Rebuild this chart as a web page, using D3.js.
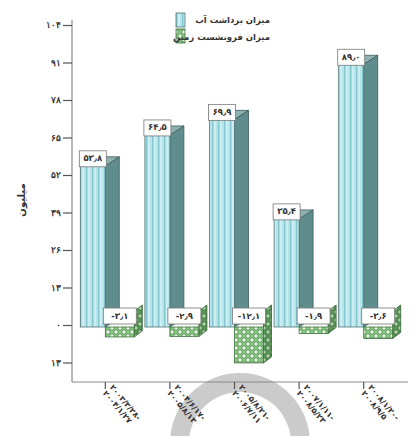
<!DOCTYPE html>
<html>
<head>
<meta charset="utf-8">
<script src="https://cdn.jsdelivr.net/npm/d3@7"></script>
<style>
  html, body { margin: 0; padding: 0; background: #fff; }
  svg { display: block; font-family: "DejaVu Sans", sans-serif; }
</style>
</head>
<body>
<svg id="chart" width="416" height="436"></svg>
<script>
// Periods (two-line labels), water extraction and land subsidence per period
const periodStart = ["۲۰۰۳/۳/۲۸-", "۲۰۰۴/۶/۱۷-", "۲۰۰۵/۸/۲۱-", "۲۰۰۷/۱/۱۱-", "۲۰۰۸/۱/۲۰-"];
const periodEnd   = ["۲۰۰۴/۱/۲۷", "۲۰۰۵/۸/۱۳", "۲۰۰۶/۷/۱۱", "۲۰۰۸/۵/۲۳", "۲۰۰۸/۹/۵"];
const extraction  = [53.8, 64.5, 69.9, 35.4, 89.0];
const subsidence  = [-3.1, -2.9, -12.1, -1.9, -3.6];
const yTicks      = [104, 91, 78, 65, 52, 39, 26, 13, 0, -13];
const seriesNames = ["میزان برداشت آب", "میزان فرونشست زمین"];
const yTitle      = "میلیون";

const faDigits = "۰۱۲۳۴۵۶۷۸۹";
const fa = s => String(s).replace(/[0-9]/g, d => faDigits[+d]).replace(".", "٫");
const fmtVal = v => fa(v.toFixed(1));

const svg = d3.select("#chart");

// ---- patterns ----
const defs = svg.append("defs");
const pc = defs.append("pattern").attr("id", "cyanStripe")
  .attr("patternUnits", "userSpaceOnUse").attr("width", 6).attr("height", 10);
pc.append("rect").attr("width", 6).attr("height", 10).attr("fill", "#b6e4e9");
pc.append("rect").attr("x", 2).attr("width", 1.3).attr("height", 10).attr("fill", "#86c6ce");
pc.append("rect").attr("x", 4.5).attr("width", 1).attr("height", 10).attr("fill", "#e2f7f9");

function dots(id, base, dot, edge) {
  const p = defs.append("pattern").attr("id", id)
    .attr("patternUnits", "userSpaceOnUse").attr("width", 8).attr("height", 8);
  p.append("rect").attr("width", 8).attr("height", 8).attr("fill", base);
  [[4, 4], [0, 0], [8, 0], [0, 8], [8, 8]].forEach(([cx, cy]) =>
    p.append("circle").attr("cx", cx).attr("cy", cy).attr("r", 2.2)
      .attr("fill", dot).attr("stroke", edge).attr("stroke-width", 0.7));
}
dots("greenDots", "#8ccc86", "#e3f5df", "#3d7a3d");
dots("greenSide", "#5d9a5a", "#a9d4a3", "#2f5f2f");

// ---- scales ----
const x = d3.scaleBand().domain(d3.range(periodStart.length)).range([73, 396]);
const y = d3.scaleLinear().domain([-13, 104]).range([362.5, 25]);
const cx = i => x(i) + x.bandwidth() / 2;

// ---- watermark ring ----
svg.append("path")
  .attr("transform", "translate(240,443)")
  .attr("d", d3.arc()({ innerRadius: 51, outerRadius: 70, startAngle: -1.8, endAngle: 1.75 }))
  .attr("fill", "#a8a8a8").attr("opacity", 0.6);

// ---- axes frame ----
const yAxis = d3.axisLeft(y).tickValues(yTicks).tickSize(9)
  .tickFormat(d => fa(Math.abs(d)));
const gy = svg.append("g").attr("transform", "translate(72,0)").call(yAxis);
gy.select(".domain").attr("d", "M0,20V382").attr("stroke", "#8a8a8a").attr("stroke-width", 1.2);
gy.selectAll(".tick line").attr("stroke", "#555").attr("stroke-width", 1.2);
gy.selectAll(".tick text").attr("font-size", 8.5).attr("font-weight", "bold")
  .attr("fill", "#333").attr("x", -11);

svg.append("line").attr("x1", 72).attr("x2", 408).attr("y1", 382).attr("y2", 382)
  .attr("stroke", "#8a8a8a").attr("stroke-width", 1.2);

// category ticks and rotated two-line labels
const gx = svg.append("g");
periodStart.forEach((s, i) => {
  const c = cx(i);
  gx.append("line").attr("x1", c).attr("x2", c).attr("y1", 382).attr("y2", 389)
    .attr("stroke", "#555").attr("stroke-width", 1.2);
  const g = gx.append("g").attr("transform", `translate(${c + 6},${386}) rotate(50)`);
  g.append("text").attr("x", 0).attr("y", 0).attr("font-size", 8).attr("font-weight", "bold")
    .attr("fill", "#333").attr("dominant-baseline", "middle").attr("direction", "ltr")
    .text(s);
  g.append("text").attr("x", 0).attr("y", 9).attr("font-size", 8).attr("font-weight", "bold")
    .attr("fill", "#333").attr("dominant-baseline", "middle").attr("direction", "ltr")
    .text(periodEnd[i]);
});

// ---- extraction bars (3D) ----
const fw = 25, dx = 14, dy = 9, lift = 4;
const y0 = y(0);
const gb = svg.append("g");
extraction.forEach((v, i) => {
  const c = cx(i), yt = y(v) - lift, yb = y0 + 2;
  // side face
  gb.append("path")
    .attr("d", `M${c},${yt}L${c + dx},${yt - dy}L${c + dx},${yb - dy}L${c},${yb}Z`)
    .attr("fill", "#5f8d8d").attr("stroke", "#3b5a5a").attr("stroke-width", 0.8);
  // top face
  gb.append("path")
    .attr("d", `M${c - fw},${yt}L${c - fw + dx},${yt - dy}L${c + dx},${yt - dy}L${c},${yt}Z`)
    .attr("fill", "#8fb1b1").attr("stroke", "#3b5a5a").attr("stroke-width", 0.8);
  // front face
  gb.append("rect").attr("x", c - fw).attr("y", yt).attr("width", fw).attr("height", yb - yt)
    .attr("fill", "url(#cyanStripe)").attr("stroke", "#4f7373").attr("stroke-width", 0.8);
  // value label
  gb.append("rect").attr("x", c - fw - 1).attr("y", yt - 15).attr("width", fw + 2).attr("height", 16)
    .attr("fill", "#fff").attr("stroke", "#777").attr("stroke-width", 0.8);
  gb.append("text").attr("x", c - fw / 2).attr("y", yt - 7)
    .attr("text-anchor", "middle").attr("dominant-baseline", "middle")
    .attr("font-size", 8.5).attr("font-weight", "bold").attr("fill", "#333")
    .text(fmtVal(v));
});

// ---- subsidence bars (3D, below zero) ----
const sw = 29, sdx = 8, sdy = 6;
subsidence.forEach((v, i) => {
  const c = cx(i), yt = y0 + 2, yb = y(v) + 3;
  gb.append("path")
    .attr("d", `M${c + sw},${yt - 16}L${c + sw + sdx},${yt - 16 - sdy}L${c + sw + sdx},${yb - sdy}L${c + sw},${yb}Z`)
    .attr("fill", "url(#greenSide)").attr("stroke", "#2f5f2f").attr("stroke-width", 0.8);
  gb.append("rect").attr("x", c).attr("y", yt).attr("width", sw).attr("height", yb - yt)
    .attr("fill", "url(#greenDots)").attr("stroke", "#3d6f3d").attr("stroke-width", 0.8);
  gb.append("rect").attr("x", c - 2).attr("y", y0 - 17).attr("width", sw + 4).attr("height", 16)
    .attr("fill", "#fff").attr("stroke", "#777").attr("stroke-width", 0.8);
  gb.append("text").attr("x", c + sw / 2).attr("y", y0 - 9)
    .attr("text-anchor", "middle").attr("dominant-baseline", "middle")
    .attr("font-size", 8.5).attr("font-weight", "bold").attr("fill", "#333")
    .attr("direction", "ltr")
    .text(fmtVal(v));
});

// ---- legend ----
const lg = svg.append("g");
[["url(#cyanStripe)", "#4f7373"], ["url(#greenDots)", "#3d6f3d"]].forEach(([fill, stroke], k) => {
  lg.append("rect").attr("x", 176).attr("y", 13 + k * 16).attr("width", 9).attr("height", 14)
    .attr("fill", fill).attr("stroke", stroke).attr("stroke-width", 0.8);
  lg.append("text").attr("x", 270).attr("y", 20 + k * 17)
    .attr("dominant-baseline", "middle")
    .attr("font-size", 8.5).attr("font-weight", "bold").attr("fill", "#333").attr("direction", "rtl")
    .attr("text-anchor", "start")
    .text(seriesNames[k]);
});

// ---- y title ----
svg.append("text").attr("transform", "translate(22,200) rotate(-90)")
  .attr("text-anchor", "middle").attr("dominant-baseline", "middle")
  .attr("font-size", 10).attr("font-weight", "bold").attr("fill", "#333")
  .text(yTitle);
</script>
</body>
</html>
